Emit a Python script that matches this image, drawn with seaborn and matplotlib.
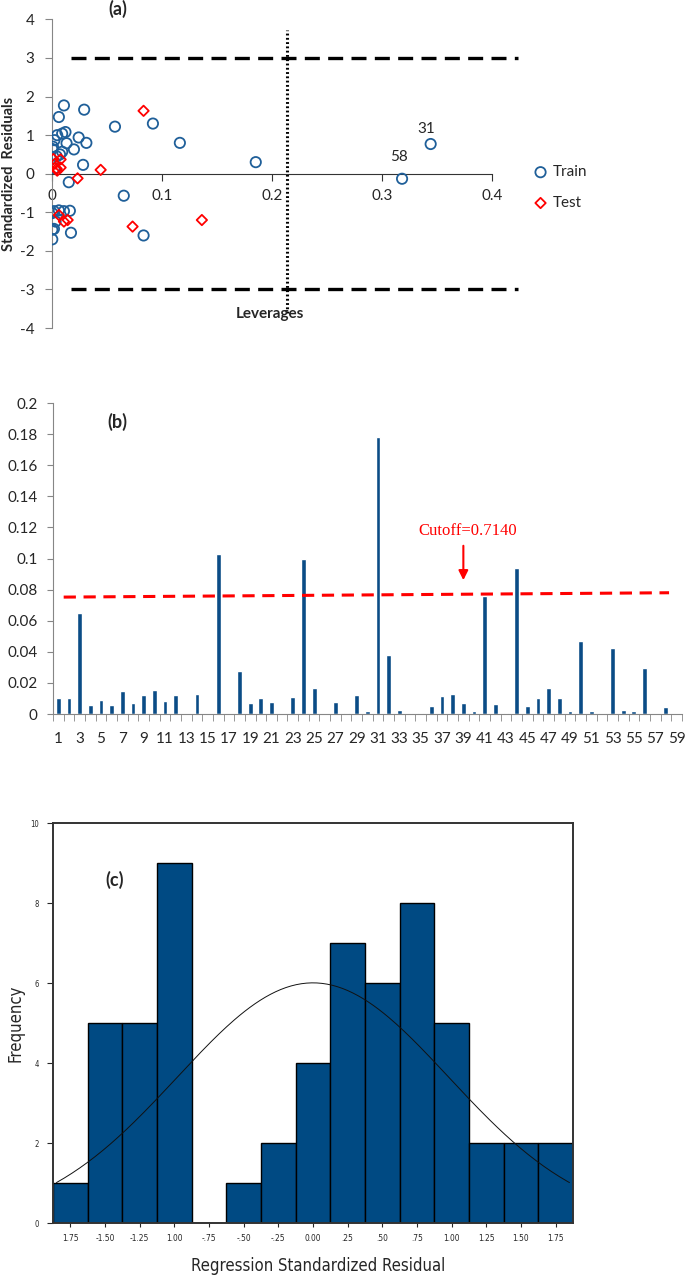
import numpy as np
import pandas as pd
import seaborn as sns
import matplotlib.pyplot as plt

# (a) Williams plot data: leverage vs standardized residual
train_lev = [0.0106, 0.006, 0.029, 0.057, 0.0915, 0.116, 0.012, 0.009, 0.0045, 0.002,
             0.0006, 0.0, 0.024, 0.031, 0.013, 0.0197, 0.009, 0.007, 0.004, 0.028,
             0.002, 0.015, 0.065, 0.0015, 0.006, 0.0106, 0.016, 0.0, 0.003, 0.0,
             0.0015, 0.017, 0.0, 0.083, 0.185, 0.344, 0.318]
train_res = [1.77, 1.47, 1.66, 1.22, 1.30, 0.80, 1.08, 1.04, 1.00, 0.87,
             0.70, 0.64, 0.94, 0.80, 0.79, 0.63, 0.57, 0.50, 0.45, 0.23,
             0.14, -0.22, -0.57, -0.97, -0.95, -0.97, -0.96, -1.02, -1.24, -1.45,
             -1.43, -1.53, -1.70, -1.60, 0.30, 0.77, -0.13]
test_lev = [0.083, 0.001, 0.0076, 0.0024, 0.004, 0.0076, 0.0045, 0.044, 0.023,
            0.006, 0.0106, 0.014, 0.073, 0.136]
test_res = [1.63, 0.38, 0.37, 0.26, 0.13, 0.16, 0.08, 0.10, -0.12,
            -1.07, -1.24, -1.20, -1.37, -1.20]
outlier_labels = ['31', '58']
outlier_lev = [0.344, 0.318]
outlier_res = [0.77, -0.13]
h_star = 0.213
res_limits = [3, -3]

# (b) leverage (Cook) values per sample
sample_ids = list(range(1, 60))
lev_values = [0.010, 0.010, 0.065, 0.006, 0.009, 0.0055, 0.0146, 0.007, 0.0124, 0.0154,
              0.0087, 0.0124, 0.0, 0.0128, 0.0, 0.103, 0.0, 0.0274, 0.007, 0.0102,
              0.0076, 0.0, 0.011, 0.0994, 0.0167, 0.0, 0.0076, 0.0007, 0.012, 0.002,
              0.178, 0.038, 0.0026, 0.0002, 0.0007, 0.005, 0.0113, 0.013, 0.0072, 0.002,
              0.076, 0.0063, 0.0007, 0.0942, 0.0052, 0.010, 0.017, 0.0104, 0.0017, 0.0467,
              0.0017, 0.0, 0.0426, 0.0026, 0.0022, 0.0298, 0.0, 0.0043, 0.0003]
cutoff_level = [0.0752, 0.078]
cutoff_text = 'Cutoff=0.7140'

# (c) histogram of regression standardized residuals
bin_centers = [-1.75, -1.5, -1.25, -1.0, -0.75, -0.5, -0.25, 0.0, 0.25, 0.5, 0.75, 1.0, 1.25, 1.5, 1.75]
bin_labels = ['1.75', '-1.50', '-1.25', '1.00', '-.75', '-.50', '-.25', '0.00',
              '.25', '.50', '.75', '1.00', '1.25', '1.50', '1.75']
freq = [1, 5, 5, 9, 0, 1, 2, 4, 7, 6, 8, 5, 2, 2, 2]
fit_mean = 0.0
fit_sd = 0.98

sns.set_style('ticks')
plt.rcParams['font.family'] = ['Lato', 'DejaVu Sans']
plt.rcParams['axes.unicode_minus'] = False

blue = '#0b4c86'
grey = '#868686'

fig = plt.figure(figsize=(6.85, 12.84), dpi=100)
ax_a = fig.add_axes([0.0763, 0.7445, 0.6905, 0.2404])
ax_b = fig.add_axes([0.0774, 0.4439, 0.918, 0.2422])
ax_c = fig.add_axes([0.0774, 0.0475, 0.759, 0.3115])

# ---------- (a) ----------
sns.scatterplot(x=train_lev, y=train_res, ax=ax_a, marker='o', s=55, color='#1f5f99',
                facecolors='none', edgecolor='#1f5f99', linewidth=1.3, label='Train', zorder=3)
sns.scatterplot(x=test_lev, y=test_res, ax=ax_a, marker='D', s=28, color='#ff0000',
                facecolors='none', edgecolor='#ff0000', linewidth=1.3, label='Test', zorder=3)
for lim in res_limits:
    ax_a.plot([0.017, 0.423], [lim, lim], color='black', lw=2.4, ls=(0, (4.5, 2.5)),
              clip_on=False)
ax_a.plot([h_star, h_star], [-3.6, 3.72], color='black', lw=2.2, ls=(0, (0.6, 0.8)))
for lab, lx, ly in zip(outlier_labels, outlier_lev, outlier_res):
    off = (-3.5, 11) if lab == '31' else (-2.5, 16)
    ax_a.annotate(lab, (lx, ly), xytext=off, textcoords='offset points',
                  ha='center', va='center', fontsize=11)
ax_a.set_xlim(0, 0.43)
ax_a.set_ylim(-4, 4)
ax_a.set_xticks([0, 0.1, 0.2, 0.3, 0.4], ['0', '0.1', '0.2', '0.3', '0.4'])
ax_a.set_yticks(range(-4, 5))
ax_a.spines['bottom'].set_position(('data', 0))
ax_a.spines['bottom'].set_bounds(0, 0.4)
ax_a.spines['bottom'].set_color('#333333')
ax_a.spines['left'].set_color(grey)
for s in ['top', 'right']:
    ax_a.spines[s].set_visible(False)
ax_a.tick_params(axis='x', length=5, pad=6, labelsize=11, color='#333333')
ax_a.tick_params(axis='y', length=5, pad=8, labelsize=11, color=grey)
ax_a.set_ylabel('Standardized  Residuals', fontweight='bold', fontsize=10.5)
ax_a.yaxis.set_label_coords(-0.076, 0.5)
ax_a.text(0.198, -3.63, 'Leverages', ha='center', va='center', fontweight='bold', fontsize=11)
ax_a.text(0.06, 4.28, '(a)', ha='center', va='center', fontweight='bold', fontsize=13,
          clip_on=False)
ax_a.legend(loc='center left', bbox_to_anchor=(1.0, 0.455), frameon=False, fontsize=11,
            handletextpad=0.2, labelspacing=1.1, borderaxespad=0, handlelength=1.2)

# ---------- (b) ----------
sns.barplot(x=sample_ids, y=lev_values, ax=ax_b, color=blue, saturation=1, width=0.45)
n = len(sample_ids)
ax_b.plot([0.5, n - 1.7], cutoff_level, color='#ff0000', lw=2.2, ls=(0, (4, 2.5)))
ax_b.annotate('', xy=(38, 0.0843), xytext=(38, 0.110),
              arrowprops=dict(arrowstyle='-|>', color='#ff0000', lw=1.5, mutation_scale=14))
ax_b.text(38.4, 0.1177, cutoff_text, color='#ff0000', ha='center', va='center',
          fontsize=12, family='Liberation Serif')
ax_b.set_xlim(-0.5, n - 0.5)
ax_b.set_ylim(0, 0.2)
yt = np.round(np.arange(0, 0.201, 0.02), 2)
ax_b.set_yticks(yt, [f'{v:g}' for v in yt])
ax_b.set_xticks(range(0, n, 2), [str(i) for i in sample_ids[::2]])
ax_b.set_xticks(np.arange(-0.5, n, 1), minor=True)
ax_b.tick_params(axis='x', which='major', length=0, pad=13, labelsize=11)
ax_b.tick_params(axis='x', which='minor', length=5, color=grey)
ax_b.tick_params(axis='y', length=4, pad=7, labelsize=11, color=grey)
for s in ['top', 'right']:
    ax_b.spines[s].set_visible(False)
ax_b.spines['left'].set_color(grey)
ax_b.spines['bottom'].set_color(grey)
ax_b.set_xlabel('')
ax_b.text(0.102, 0.939, '(b)', transform=ax_b.transAxes, ha='center', va='center',
          fontweight='bold', fontsize=13)

# ---------- (c) ----------
hist_df = pd.DataFrame({'resid': bin_centers, 'count': freq})
edges = [c - 0.125 for c in bin_centers] + [bin_centers[-1] + 0.125]
sns.histplot(data=hist_df, x='resid', weights='count', bins=edges, ax=ax_c,
             color='#004a83', edgecolor='black', linewidth=1.0, alpha=1)
xs = np.linspace(-1.85, 1.85, 200)
ys = sum(freq) * 0.25 * np.exp(-0.5 * ((xs - fit_mean) / fit_sd) ** 2) / (fit_sd * np.sqrt(2 * np.pi))
sns.lineplot(x=xs, y=ys, ax=ax_c, color='#111111', lw=0.7)
ax_c.set_xlim(-1.875, 1.875)
ax_c.set_ylim(0, 10)
ax_c.set_xticks(bin_centers, bin_labels)
ax_c.set_yticks(range(0, 11, 2))
for t in ax_c.get_xticklabels() + ax_c.get_yticklabels():
    t.set_family('DejaVu Sans')
    t.set_stretch('condensed')
ax_c.tick_params(axis='x', length=3, pad=5, labelsize=6)
ax_c.tick_params(axis='y', length=4, pad=6, labelsize=5.5)
for s in ax_c.spines.values():
    s.set_visible(True)
    s.set_color('#333333')
    s.set_linewidth(1.4)
ax_c.set_ylabel('Frequency', fontsize=12, family='DejaVu Sans', fontstretch='condensed')
ax_c.yaxis.set_label_coords(-0.055, 0.5)
ax_c.set_xlabel('Regression Standardized Residual', fontsize=12, family='DejaVu Sans',
                fontstretch='condensed')
ax_c.xaxis.set_label_coords(0.51, -0.085)
ax_c.text(0.119, 0.857, '(c)', transform=ax_c.transAxes, ha='center', va='center',
          fontweight='bold', fontsize=13)

fig.savefig('out.png', dpi=100)
